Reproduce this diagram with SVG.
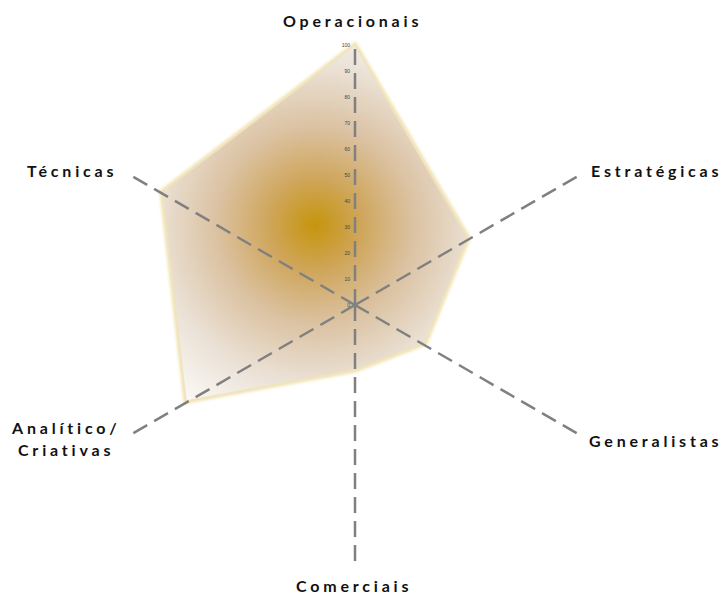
<svg xmlns="http://www.w3.org/2000/svg" width="727" height="596" viewBox="0 0 727 596">
<style>
.lbl{font-family:Lato,"Liberation Sans",sans-serif;font-weight:bold;font-size:16px;letter-spacing:3.8px;fill:#111}
.tick{font-family:"Liberation Sans",Arial,sans-serif;font-size:5px;fill:#444;text-anchor:end}
.axis{stroke:#808080;stroke-width:2.5;stroke-dasharray:16 8;fill:none}
</style>
<defs>
<radialGradient id="g" gradientUnits="userSpaceOnUse" cx="315" cy="225" r="235">
<stop offset="0" stop-color="#c6950c"/>
<stop offset="0.2" stop-color="#cfa65c"/>
<stop offset="0.42" stop-color="#dbc2a2"/>
<stop offset="0.68" stop-color="#ebe2d7"/>
<stop offset="0.9" stop-color="#f9f6f2"/>
<stop offset="1" stop-color="#ffffff"/>
</radialGradient>
<filter id="blur" x="-10%" y="-10%" width="120%" height="120%"><feGaussianBlur stdDeviation="1.5"/></filter>
</defs>
<rect width="727" height="596" fill="#fff"/>
<g id="area">
<polygon points="355,45 468,238 425,343 355,370 186,401 162,192" fill="none" stroke="#f0e2b2" stroke-width="5" filter="url(#blur)"/>
<polygon points="355,45 468,238 425,343 355,370 186,401 162,192" fill="url(#g)" stroke="#f1e4bb" stroke-width="1.5"/>
</g>
<g id="connectors">
<line class="axis" x1="355" y1="305" x2="355" y2="45"/>
<line class="axis" x1="355" y1="305" x2="580" y2="175"/>
<line class="axis" x1="355" y1="305" x2="580" y2="435"/>
<line class="axis" x1="355" y1="305" x2="355" y2="565"/>
<line class="axis" x1="355" y1="305" x2="130" y2="435"/>
<line class="axis" x1="355" y1="305" x2="130" y2="175"/>
</g>
<g id="ticks">
<text class="tick" x="350" y="307">0</text>
<text class="tick" x="350" y="281">10</text>
<text class="tick" x="350" y="255">20</text>
<text class="tick" x="350" y="229">30</text>
<text class="tick" x="350" y="203">40</text>
<text class="tick" x="350" y="177">50</text>
<text class="tick" x="350" y="151">60</text>
<text class="tick" x="350" y="125">70</text>
<text class="tick" x="350" y="99">80</text>
<text class="tick" x="350" y="73">90</text>
<text class="tick" x="350" y="47">100</text>
</g>
<g id="operacionais"><text class="lbl" x="283" y="27">Operacionais</text></g>
<g id="estrategicas"><text class="lbl" x="591" y="177">Estratégicas</text></g>
<g id="generalistas"><text class="lbl" x="589" y="447">Generalistas</text></g>
<g id="comerciais"><text class="lbl" x="296" y="592">Comerciais</text></g>
<g id="analitico"><text class="lbl" x="12" y="434">Analítico/</text><text class="lbl" x="18" y="456">Criativas</text></g>
<g id="tecnicas"><text class="lbl" x="27" y="177">Técnicas</text></g>
</svg>
